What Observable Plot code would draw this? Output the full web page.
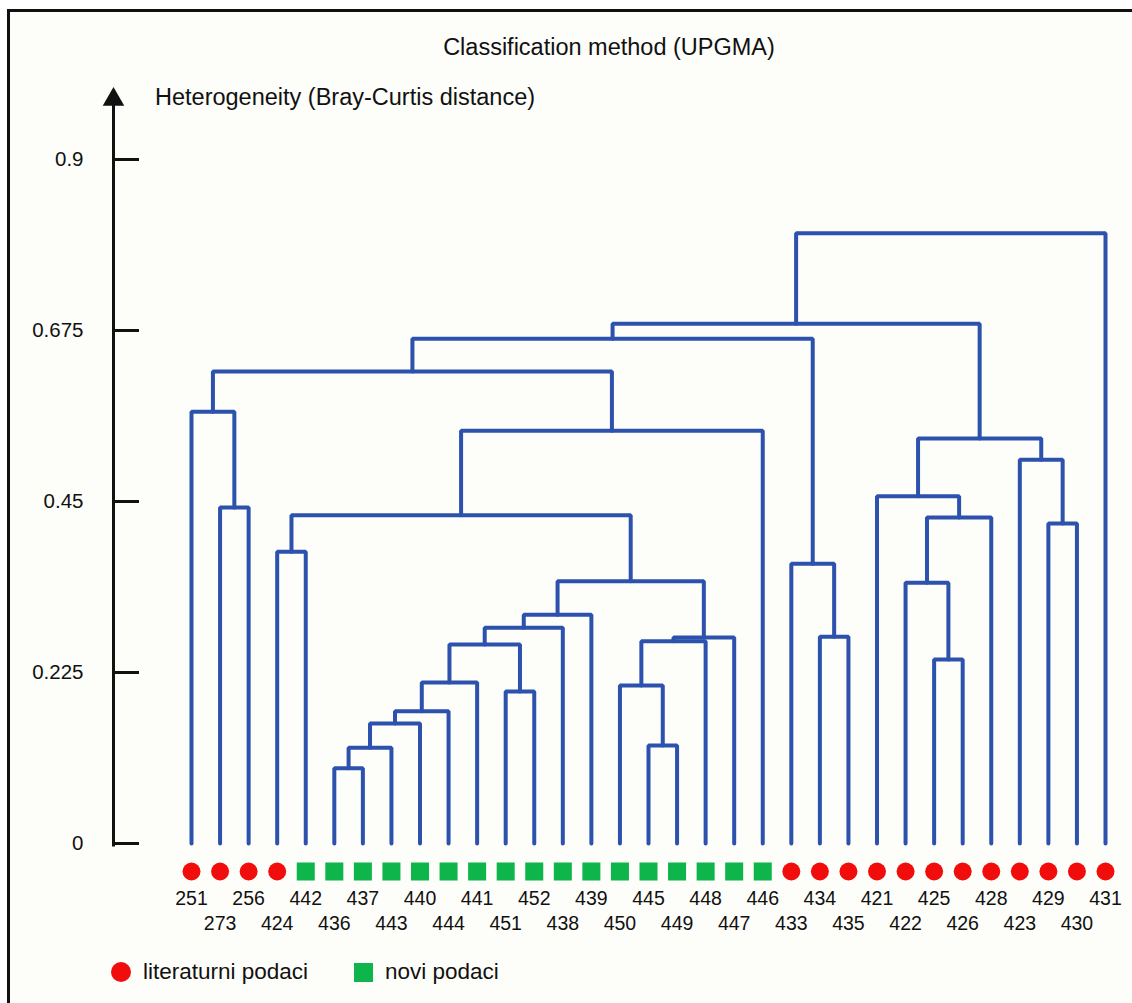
<!DOCTYPE html>
<html>
<head>
<meta charset="utf-8">
<script src="https://cdn.jsdelivr.net/npm/d3@7"></script>
<script src="https://cdn.jsdelivr.net/npm/@observablehq/plot@0.6"></script>
<style>
  html, body { margin: 0; padding: 0; background: #ffffff; }
  #page { position: relative; width: 1132px; height: 1003px; overflow: hidden;
          font-family: "Liberation Sans", Arial, Helvetica, sans-serif; color: #111; }
  #frame { position: absolute; left: 7px; top: 9px; width: 1200px; height: 1100px;
           border: 3px solid #111; background: #fdfdf9; }
  #chart { position: absolute; left: 0; top: 0; }
  #title { position: absolute; left: 0; width: 1218px; top: 33px; text-align: center;
           font-size: 23.5px; line-height: 28px; }
  #ylabel { position: absolute; left: 155px; top: 83px; font-size: 23.5px; line-height: 28px; }
  .leg { position: absolute; top: 958px; font-size: 22.5px; line-height: 28px; display: flex; align-items: center; }
  .sw { display: inline-block; margin-right: 12px; }
</style>
</head>
<body>
<div id="page">
  <div id="frame"></div>
  <div id="chart"></div>
  <div id="title">Classification method (UPGMA)</div>
  <div id="ylabel">Heterogeneity (Bray-Curtis distance)</div>
  <div class="leg" style="left:111px"><span class="sw" style="width:20px;height:20px;border-radius:50%;background:#f20d0d"></span>literaturni podaci</div>
  <div class="leg" style="left:354px"><span class="sw" style="width:19px;height:19px;background:#0db54b"></span>novi podaci</div>
</div>
<script>
// Leaves (left to right)
const leafLabels = ["251","273","256","424","442","436","437","443","440","444","441","451","452","438","439","450","445","449","448","447","446","433","434","435","421","422","425","426","428","423","429","430","431"];
const leafSource = ["lit","lit","lit","lit",
  "novi","novi","novi","novi","novi","novi","novi","novi","novi","novi","novi","novi","novi","novi","novi","novi","novi",
  "lit","lit","lit","lit","lit","lit","lit","lit","lit","lit","lit","lit"];

// UPGMA merges: cluster k+1 = "c"+(k+1) joins mergeLeft[k] and mergeRight[k] at mergeHeight[k]
const mergeLeft   = ["436","c1","445","c2","c4","451","450","c5","425","c8","c7","434","c11","c10","c14","422","c15","433","424","429","c16","c19","273","421","423","c24","c22","251","c28","c29","c30","c31"];
const mergeRight  = ["437","443","449","440","444","452","c3","441","426","c6","448","435","447","438","439","c9","c13","c12","442","430","428","c17","256","c21","c20","c25","446","c23","c27","c18","c26","431"];
const mergeHeight = [0.099,0.126,0.129,0.158,0.174,0.200,0.208,0.212,0.242,0.262,0.266,0.272,0.271,0.284,0.301,0.343,0.345,0.368,0.384,0.421,0.429,0.432,0.442,0.457,0.505,0.533,0.543,0.568,0.621,0.664,0.684,0.803];

const yTicks = [0, 0.225, 0.45, 0.675, 0.9];

const leaves = leafLabels.map((label, i) => ({i, label, source: leafSource[i]}));
const pos = new Map();
leaves.forEach(d => pos.set(d.label, {x: d.i, h: 0}));
const links = [];
mergeLeft.forEach((a, k) => {
  const A = pos.get(a), B = pos.get(mergeRight[k]), h = mergeHeight[k];
  links.push({id: k, x: A.x, y: A.h}, {id: k, x: A.x, y: h}, {id: k, x: B.x, y: h}, {id: k, x: B.x, y: B.h});
  pos.set("c" + (k + 1), {x: (A.x + B.x) / 2, h});
});

const blue = "#2c52ae";
const chart = Plot.plot({
  width: 1132,
  height: 1003,
  marginLeft: 191,
  marginRight: 27,
  marginTop: 159,
  marginBottom: 160,
  x: {domain: [0, leafLabels.length - 1], axis: null},
  y: {domain: [0, 0.9], axis: null},
  style: {background: "transparent", color: "#111", fontFamily: "'Liberation Sans', Arial, Helvetica, sans-serif", overflow: "visible"},
  marks: [
    Plot.frame({anchor: "left", dx: -78, insetTop: -60, insetBottom: -1.5, stroke: "#111", strokeWidth: 3}),
    Plot.dot([0], {frameAnchor: "top-left", dx: -78, dy: -60, symbol: "triangle", r: 8, fill: "#111", stroke: null}),
    Plot.axisY(yTicks, {anchor: "left", tickSize: 26, tickPadding: 30, dx: -52, fontSize: 20.5, strokeWidth: 3, tickFormat: d => String(d), label: null}),
    Plot.line(links, {x: "x", y: "y", z: "id", stroke: blue, strokeWidth: 4, strokeLinejoin: "miter"}),
    Plot.dot(leaves, {filter: d => d.source === "lit", x: "i", frameAnchor: "bottom", dy: 28, r: 9, symbol: "circle", fill: "#f20d0d", stroke: null}),
    Plot.dot(leaves, {filter: d => d.source === "novi", x: "i", frameAnchor: "bottom", dy: 28, r: 10.16, symbol: "square", fill: "#0db54b", stroke: null}),
    Plot.text(leaves, {filter: d => d.i % 2 === 0, x: "i", text: "label", frameAnchor: "bottom", dy: 61, fontSize: 19.5, fill: "#111"}),
    Plot.text(leaves, {filter: d => d.i % 2 === 1, x: "i", text: "label", frameAnchor: "bottom", dy: 86, fontSize: 19.5, fill: "#111"})
  ]
});
document.getElementById("chart").appendChild(chart);
</script>
</body>
</html>
